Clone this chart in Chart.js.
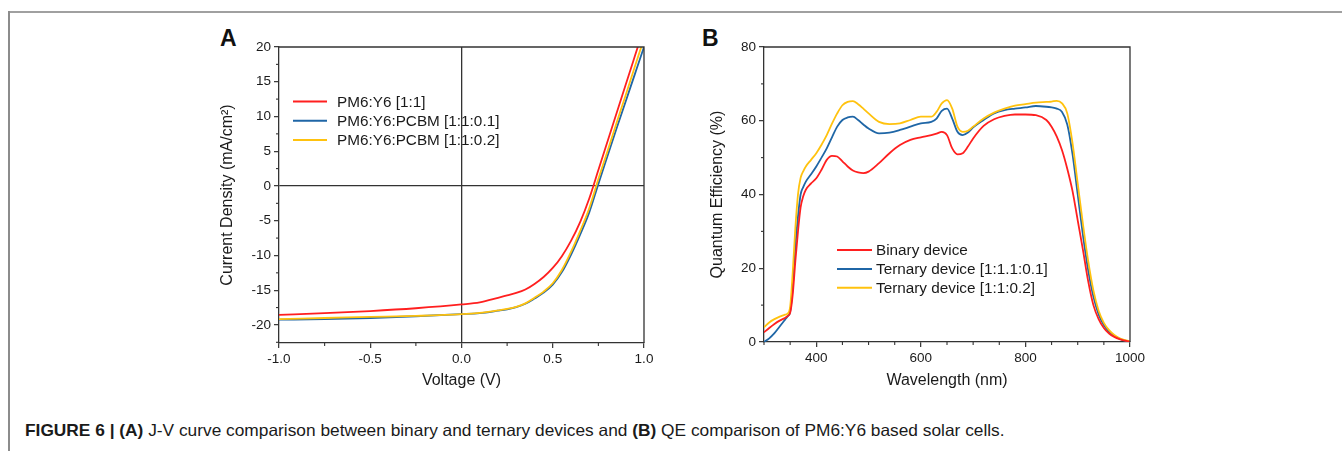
<!DOCTYPE html>
<html>
<head>
<meta charset="utf-8">
<script src="https://cdn.jsdelivr.net/npm/chart.js@4.4.0/dist/chart.umd.min.js"></script>
<style>
  html, body { margin: 0; padding: 0; background: #fff; }
  body { width: 1342px; height: 451px; position: relative; overflow: hidden; font-family: 'Liberation Sans', Arial, sans-serif; color: #1a1a1a; }
  .rule-top { position: absolute; left: 8px; top: 11px; width: 1334px; height: 2px; background: #a0a0a0; }
  .rule-left { position: absolute; left: 8px; top: 11px; width: 2px; height: 440px; background: #8c8c8c; }
  canvas { position: absolute; top: 0; }
  #jvChart { left: 200px; }
  #qeChart { left: 690px; }
  .panel { position: absolute; top: 25px; font-size: 23px; font-weight: bold; color: #111; }
  .caption { position: absolute; left: 25px; top: 421px; font-family: 'Liberation Sans', Arial, sans-serif; font-size: 16.5px; white-space: nowrap; color: #1a1a1a; transform-origin: 0 0; }
  .caption b { font-weight: bold; }
</style>
</head>
<body>
<div class="rule-top"></div>
<div class="rule-left"></div>
<div class="panel" style="left:220px">A</div>
<div class="panel" style="left:702px">B</div>
<canvas id="jvChart" width="460" height="400"></canvas>
<canvas id="qeChart" width="460" height="400"></canvas>
<div class="caption" id="caption"><b>FIGURE 6 | (A)</b> J-V curve comparison between binary and ternary devices and <b>(B)</b> QE comparison of PM6:Y6 based solar cells.</div>

<script>
// ---- panel A: J-V curves ----
const voltage = [-1, -0.75, -0.5, -0.25, 0, 0.1, 0.2, 0.25, 0.3, 0.35, 0.4, 0.45, 0.5, 0.55, 0.6, 0.65, 0.7, 0.75, 0.8, 0.85, 0.9, 0.95, 1.0];
const jvBinary    = [-18.55, -18.3, -18.0, -17.6, -17.05, -16.75, -16.1, -15.75, -15.4, -14.9, -14.1, -13.1, -11.8, -10.1, -7.9, -5.2, -1.8, 2.3, 6.4, 10.5, 14.6, 18.7, 22.8];
const jvTernary01 = [-19.25, -19.15, -19.0, -18.75, -18.45, -18.3, -17.95, -17.75, -17.45, -16.95, -16.2, -15.35, -14.2, -12.4, -9.9, -7.0, -3.8, 0.3, 4.3, 8.3, 12.2, 16.1, 20.0];
const jvTernary02 = [-19.15, -19.0, -18.85, -18.7, -18.45, -18.25, -17.9, -17.7, -17.4, -16.9, -16.1, -15.2, -14.0, -12.1, -9.5, -6.5, -3.2, 1.0, 5.0, 9.1, 13.1, 17.2, 21.2];
const jvLabels = ['PM6:Y6 [1:1]', 'PM6:Y6:PCBM [1:1:0.1]', 'PM6:Y6:PCBM [1:1:0.2]'];
const jvXTicks = [-1, -0.5, 0, 0.5, 1];
const jvYTicks = [-20, -15, -10, -5, 0, 5, 10, 15, 20];

// ---- panel B: quantum efficiency ----
const wavelength = [300, 310, 320, 330, 340, 345, 350, 355, 360, 365, 370, 375, 380, 390, 400, 410, 420, 430, 440, 450, 460, 470, 480, 490, 500, 520, 540, 560, 580, 600, 620, 630, 640, 650, 660, 670, 680, 690, 700, 720, 740, 760, 780, 800, 820, 840, 850, 860, 870, 880, 890, 900, 910, 920, 930, 940, 950, 960, 970, 980, 990, 1000];
const qeBinary = [2.6, 3.8, 4.9, 5.8, 6.5, 7.0, 7.9, 13, 22, 30, 36.5, 39.5, 41.3, 43, 44.4, 46.7, 49.4, 50.5, 50.3, 49, 47.6, 46.5, 46.0, 45.8, 46.2, 48.5, 51.2, 53.4, 54.8, 55.5, 56.1, 56.5, 57.0, 56.1, 52.5, 50.9, 51.2, 53.0, 55.2, 58.6, 60.4, 61.3, 61.7, 61.7, 61.5, 60.2, 58.4, 55.7, 52, 47, 41, 33, 25, 16.5, 10, 6.2, 3.8, 2.3, 1.4, 0.8, 0.4, 0.1];
const qeTernary01 = [0, 1.0, 2.4, 4.2, 6.0, 6.9, 8.2, 15, 26, 34, 40, 42, 43.5, 45.5, 47.6, 50, 52.5, 55.5, 58.4, 60.2, 60.9, 61.1, 60.2, 59, 57.9, 56.6, 56.8, 57.5, 58.4, 59.3, 59.7, 60.6, 62.7, 63.3, 60.6, 57.0, 56.1, 56.8, 58.2, 60.2, 62.0, 62.9, 63.3, 63.6, 64.0, 63.8, 63.6, 63.3, 62.4, 59, 51, 40, 29, 19.5, 12.3, 7.5, 4.6, 2.8, 1.7, 0.9, 0.4, 0.1];
const qeTernary02 = [4.0, 5.3, 6.2, 6.9, 7.4, 7.7, 9.5, 19, 31, 40, 44.5, 46.3, 47.6, 49.4, 51.2, 53.5, 56.1, 59.2, 62, 64.2, 65.1, 65.3, 64.5, 63.3, 62, 59.7, 59.1, 59.3, 60.2, 61.1, 61.1, 62.4, 64.7, 65.6, 63.3, 58.4, 57.0, 57.3, 58.4, 60.6, 62.2, 63.3, 64.1, 64.5, 64.9, 65.1, 65.2, 65.4, 64.7, 62, 54, 43, 32, 22, 14, 8.5, 5.2, 3.2, 1.9, 1.0, 0.5, 0.2];
const qeLabels = ['Binary device', 'Ternary device [1:1.1:0.1]', 'Ternary device [1:1:0.2]'];
const qeXTicks = [400, 600, 800, 1000];
const qeYTicks = [0, 20, 40, 60, 80];

const seriesColors = ['#ff1f1f', '#1f66a6', '#ffc20e'];
const axisColor = '#333333';
const textColor = '#1a1a1a';
const fontFamily = "'Liberation Sans', Arial, sans-serif";

// caption is set in a condensed face in the original; squeeze to its width
const cap = document.getElementById('caption');
cap.style.transform = 'scaleX(' + (980 / cap.offsetWidth) + ')';

function toPoints(xs, ys) {
    return xs.map((x, i) => ({ x: x, y: ys[i] }));
}

function makeDatasets(xs, seriesList, labels) {
    // red on top, then yellow, blue underneath
    const order = [0, 2, 1];
    return seriesList.map((ys, i) => ({
        label: labels[i],
        data: toPoints(xs, ys),
        borderColor: seriesColors[i],
        borderWidth: 1.8,
        pointRadius: 0,
        fill: false,
        cubicInterpolationMode: 'monotone',
        order: order[i]
    }));
}

// frame on top and right of the plot area
const boxFrame = {
    id: 'boxFrame',
    afterDatasetsDraw(chart) {
        const { ctx, chartArea: a } = chart;
        ctx.save();
        ctx.strokeStyle = axisColor;
        ctx.lineWidth = 1.3;
        ctx.beginPath();
        ctx.moveTo(a.left, a.top);
        ctx.lineTo(a.right, a.top);
        ctx.lineTo(a.right, a.bottom);
        ctx.stroke();
        ctx.restore();
    }
};

// short outward ticks between the labelled ones
const minorTicks = {
    id: 'minorTicks',
    afterDraw(chart, args, opts) {
        const ctx = chart.ctx;
        const a = chart.chartArea;
        ctx.save();
        ctx.strokeStyle = axisColor;
        ctx.lineWidth = 1.1;
        ['x', 'y'].forEach(id => {
            const scale = chart.scales[id];
            const step = opts[id];
            const majors = scale.ticks.map(t => t.value);
            let v = Math.ceil(scale.min / step) * step;
            for (; v <= scale.max + 1e-9; v += step) {
                if (majors.some(m => Math.abs(m - v) < 1e-6)) continue;
                const p = scale.getPixelForValue(v);
                ctx.beginPath();
                if (id === 'x') {
                    ctx.moveTo(p, a.bottom);
                    ctx.lineTo(p, a.bottom + 3);
                } else {
                    ctx.moveTo(a.left, p);
                    ctx.lineTo(a.left - 3, p);
                }
                ctx.stroke();
            }
        });
        ctx.restore();
    }
};

// legend drawn inside the plot
const lineLegend = {
    id: 'lineLegend',
    afterDraw(chart, args, opts) {
        const ctx = chart.ctx;
        ctx.save();
        ctx.font = '15.3px ' + fontFamily;
        ctx.textBaseline = 'middle';
        ctx.fillStyle = textColor;
        chart.data.datasets.forEach((ds, i) => {
            const y = opts.top + i * opts.rowGap;
            ctx.strokeStyle = ds.borderColor;
            ctx.lineWidth = 2;
            ctx.beginPath();
            ctx.moveTo(opts.left, y);
            ctx.lineTo(opts.left + opts.lineLength, y);
            ctx.stroke();
            ctx.fillText(ds.label, opts.left + opts.lineLength + opts.gap, y + 1);
        });
        ctx.restore();
    }
};

function makeScale(cfg) {
    return {
        type: 'linear',
        min: cfg.min,
        max: cfg.max,
        afterBuildTicks: s => { s.ticks = cfg.ticks.map(v => ({ value: v })); },
        afterFit: s => {
            if (cfg.axis === 'x') s.height = cfg.size;
            else s.width = cfg.size;
        },
        grid: {
            drawOnChartArea: !!cfg.zeroLine,
            color: ctx => (cfg.zeroLine && ctx.tick && ctx.tick.value === 0) ? axisColor : 'rgba(0,0,0,0)',
            lineWidth: 1.3,
            tickColor: axisColor,
            tickLength: 5,
            tickWidth: 1.2
        },
        border: { display: true, color: axisColor, width: 1.3 },
        ticks: {
            color: textColor,
            font: { family: fontFamily, size: 13.5 },
            padding: 3,
            maxRotation: 0,
            autoSkip: false,
            callback: cfg.format
        },
        title: {
            display: true,
            text: cfg.title,
            color: textColor,
            font: { family: fontFamily, size: 16 },
            padding: cfg.axis === 'x' ? { top: 0, bottom: 10 } : { top: 18, bottom: 0 }
        }
    };
}

function makeChart(canvasId, datasets, scales, padding, minor, legend) {
    const ctx = document.getElementById(canvasId).getContext('2d');
    return new Chart(ctx, {
        type: 'line',
        plugins: [boxFrame, minorTicks, lineLegend],
        data: { datasets: datasets },
        options: {
            responsive: false,
            animation: false,
            devicePixelRatio: 1,
            events: [],
            layout: { padding: padding },
            plugins: {
                legend: { display: false },
                tooltip: { enabled: false },
                minorTicks: minor,
                lineLegend: legend
            },
            scales: scales
        }
    });
}

makeChart('jvChart',
    makeDatasets(voltage, [jvBinary, jvTernary01, jvTernary02], jvLabels),
    {
        x: makeScale({ axis: 'x', min: -1, max: 1, ticks: jvXTicks, size: 57, zeroLine: true,
            title: 'Voltage (V)', format: v => v.toFixed(1) }),
        y: makeScale({ axis: 'y', min: -22.6, max: 20, ticks: jvYTicks, size: 79, zeroLine: true,
            title: 'Current Density (mA/cm\u00B2)', format: v => String(v) })
    },
    { top: 47, right: 16, left: 0, bottom: 0 },
    { x: 0.25, y: 2.5 },
    { left: 93, top: 101.5, rowGap: 19.3, lineLength: 34, gap: 10 }
);

makeChart('qeChart',
    makeDatasets(wavelength, [qeBinary, qeTernary01, qeTernary02], qeLabels),
    {
        x: makeScale({ axis: 'x', min: 300, max: 1000, ticks: qeXTicks, size: 58,
            title: 'Wavelength (nm)', format: v => String(v) }),
        y: makeScale({ axis: 'y', min: 0, max: 80, ticks: qeYTicks, size: 74,
            title: 'Quantum Efficiency (%)', format: v => String(v) })
    },
    { top: 47, right: 20, left: 0, bottom: 0 },
    { x: 50, y: 10 },
    { left: 147, top: 250, rowGap: 18.9, lineLength: 35, gap: 4 }
);
</script>
</body>
</html>
